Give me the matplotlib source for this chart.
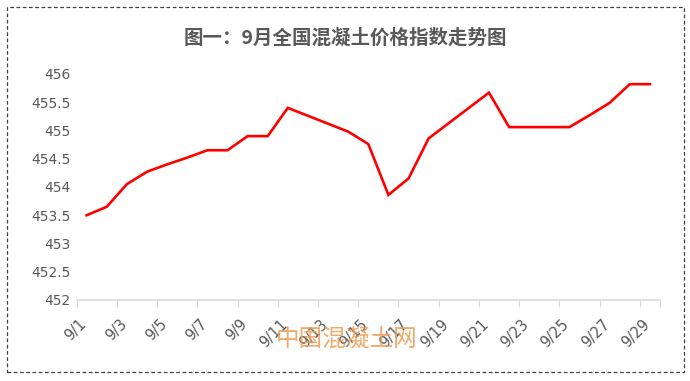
import matplotlib.pyplot as plt
import matplotlib.transforms as mtransforms
from matplotlib.patches import Rectangle

plt.rcParams['font.family'] = ['DejaVu Sans', 'Noto Sans CJK SC']

days = ['9/%d' % d for d in range(1, 30)]
index_values = [453.5, 453.65, 454.05, 454.27, 454.4, 454.52, 454.65, 454.65,
                454.9, 454.9, 455.4, 455.26, 455.12, 454.98, 454.76, 453.86,
                454.15, 454.86, 455.13, 455.4, 455.67, 455.06, 455.06, 455.06,
                455.06, 455.27, 455.49, 455.82, 455.82]
y_ticks = [452, 452.5, 453, 453.5, 454, 454.5, 455, 455.5, 456]
y_labels = ['452', '452.5', '453', '453.5', '454', '454.5', '455', '455.5', '456']

fig = plt.figure(figsize=(6.9, 3.81), dpi=100)
ax = fig.add_axes([0.111, 0.2126, 0.8455, 0.5932])

x = list(range(len(days)))
ax.plot(x, index_values, color='#FF0000', linewidth=1.9, solid_joinstyle='miter')

ax.set_xlim(-0.5, len(days) - 0.5)
ax.set_ylim(452, 456)
ax.set_yticks(y_ticks)
ax.set_yticklabels(y_labels)

# tick marks between categories, labels on every second category
ax.set_xticks([i - 0.5 for i in range(0, len(days) + 1, 2)] + [len(days) - 0.5])
ax.set_xticklabels([])
ax.set_xticks(x[::2], minor=True)
ax.set_xticklabels(days[::2], minor=True, rotation=45, ha='right', va='top',
                   rotation_mode='anchor')
ax.tick_params(axis='x', which='major', length=5, color='#D9D9D9', direction='out')
ax.tick_params(axis='x', which='minor', length=0, pad=12, labelsize=10.5, labelcolor='#595959')
ax.tick_params(axis='y', length=0, pad=4, labelsize=10, labelcolor='#595959')

shift = mtransforms.ScaledTranslation(-8 / 100, 0, fig.dpi_scale_trans)
for lbl in ax.get_xticklabels(minor=True):
    lbl.set_transform(lbl.get_transform() + shift)

for s in ['top', 'right', 'left']:
    ax.spines[s].set_visible(False)
ax.spines['bottom'].set_color('#D9D9D9')
ax.spines['bottom'].set_linewidth(1.2)

fig.text(0.5, 1 - 38 / 381, '图一：9月全国混凝土价格指数走势图', ha='center', va='center',
         fontsize=14, fontweight='bold', color='#595959', family=['Noto Sans CJK SC'])

# watermark
fig.text(347 / 690, 1 - 340 / 381, '中国混凝土网', ha='center', va='center',
         fontsize=17, color='#F09A50', alpha=0.85, family=['Noto Sans CJK SC'])

fig.patches.append(Rectangle((7 / 690, 9 / 381), 677 / 690, 365 / 381,
                             transform=fig.transFigure, fill=False,
                             edgecolor='#404040', linestyle=(0, (3, 2)), linewidth=0.9))

fig.savefig('out.png', dpi=100)
